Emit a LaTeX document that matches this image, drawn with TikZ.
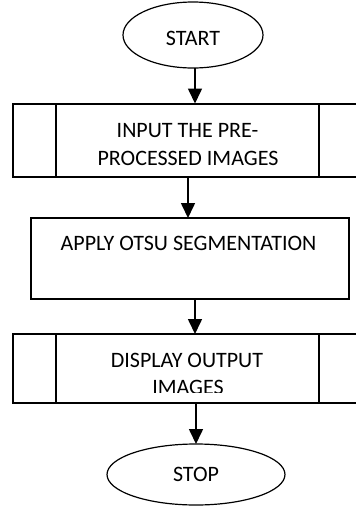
\documentclass[tikz,border=0pt]{standalone}
\usepackage{fontspec}
\setmainfont{Carlito}
\usetikzlibrary{arrows.meta}
\tikzset{
  boxline/.style={line width=2pt},
  termline/.style={line width=1.2pt},
  flowarrow/.style={line width=1.6pt,-{Triangle[length=15pt,width=14pt]}},
  lbl/.style={font=\fontsize{22}{26}\selectfont, anchor=base, inner sep=0pt}
}
\begin{document}
\begin{tikzpicture}[x=1pt,y=-1pt]
\clip (0,0) rectangle (356,507);
\fill[white] (0,0) rectangle (356,507);
% START
\draw[termline] (193,35) ellipse [x radius=70, y radius=33];
\node[lbl] (start) at (193,45) {START};
\coordinate (startB) at (195,68);
% Box 1
\draw[boxline] (13,103.5) rectangle (360,177);
\draw[boxline] (56,103.5) -- (56,177);
\draw[boxline] (318.5,103.5) -- (318.5,177);
\coordinate (b1T) at (195,103.5);
\coordinate (b1B) at (188,177);
\node[lbl] (t1a) at (187.5,137.5) {INPUT THE PRE-};
\node[lbl] (t1b) at (188,165.5) {PROCESSED IMAGES};
% Box 2
\draw[boxline] (31,218) rectangle (348.5,299);
\coordinate (b2T) at (188,218);
\coordinate (b2B) at (195,299);
\node[lbl] (t2) at (188.5,250.5) {APPLY OTSU SEGMENTATION};
% Box 3
\draw[boxline] (13,334) rectangle (360,403);
\draw[boxline] (56,334) -- (56,403);
\draw[boxline] (318.5,334) -- (318.5,403);
\coordinate (b3T) at (195,334);
\coordinate (b3B) at (196,403);
\node[lbl] (t3a) at (187,367.5) {DISPLAY OUTPUT};
\begin{scope}
\clip (60,370) rectangle (300,392);
\node[lbl] (t3b) at (188,394.5) {IMAGES};
\end{scope}
% STOP
\draw[termline] (196,474.5) ellipse [x radius=89, y radius=30.5];
\node[lbl] (stop) at (196,481.5) {STOP};
\coordinate (stopT) at (196,444);
% arrows
\draw[flowarrow] (startB) -- (b1T);
\draw[flowarrow] (b1B) -- (b2T);
\draw[flowarrow] (b2B) -- (b3T);
\draw[flowarrow] (b3B) -- (stopT);
\end{tikzpicture}
\end{document}
